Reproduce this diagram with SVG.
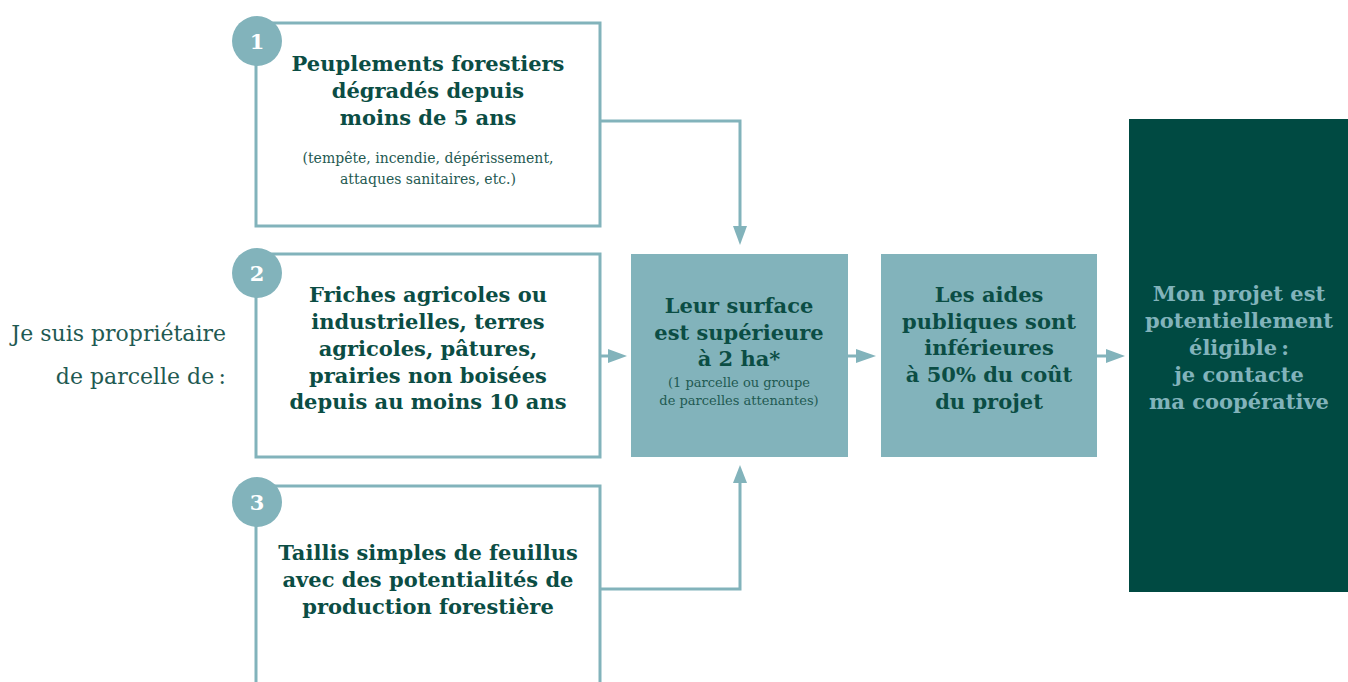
<svg xmlns="http://www.w3.org/2000/svg" width="1348" height="682" viewBox="0 0 1348 682">
<style>
.box{fill:#fff;stroke:#82b3bb;stroke-width:3}
.circ{fill:#82b3bb}
.num{font-family:"DejaVu Serif",serif;font-weight:bold;font-size:21px;fill:#fff;text-anchor:middle}
.t{font-family:"DejaVu Serif",serif;font-weight:bold;font-size:21px;fill:#0b4d44;text-anchor:middle}
.s{font-family:"DejaVu Serif",serif;font-size:14px;fill:#1f5a52;text-anchor:middle}
.s2{font-family:"DejaVu Serif",serif;font-size:13px;fill:#1f5a52;text-anchor:middle}
.lt{font-family:"DejaVu Serif",serif;font-size:22px;fill:#1f5a52;text-anchor:end}
.mid{fill:#82b3bb}
.dark{fill:#004a42}
.td{font-family:"DejaVu Serif",serif;font-weight:bold;font-size:21px;fill:#82b3bb;text-anchor:middle}
.ln{fill:none;stroke:#82b3bb;stroke-width:3}
.ah{fill:#82b3bb}
</style>
<rect width="1348" height="682" fill="#fff"/>
<g id="intro">
<text class="lt" x="226" y="341">Je suis propriétaire</text>
<text class="lt" x="226" y="384">de parcelle de&#8239;:</text>
</g>
<g id="connectors">
<polyline class="ln" points="600,121 740,121 740,228"/>
<polygon class="ah" points="733,226 747,226 740,245"/>
<polyline class="ln" points="600,589 740,589 740,482"/>
<polygon class="ah" points="733,483 747,483 740,465"/>
<line class="ln" x1="600" y1="356" x2="610" y2="356"/>
<polygon class="ah" points="608,349 608,363 627,356"/>
<line class="ln" x1="848" y1="356" x2="858" y2="356"/>
<polygon class="ah" points="856,349 856,363 876,356"/>
<line class="ln" x1="1097" y1="356" x2="1108" y2="356"/>
<polygon class="ah" points="1106,349 1106,363 1125,356"/>
</g>
<g id="node1">
<rect class="box" x="256" y="23" width="344" height="203"/>
<circle class="circ" cx="257" cy="41" r="25"/>
<text class="num" x="257" y="49">1</text>
<text class="t" x="428" y="71">Peuplements forestiers</text>
<text class="t" x="428" y="98">dégradés depuis</text>
<text class="t" x="428" y="125">moins de 5 ans</text>
<text class="s" x="428" y="163">(tempête, incendie, dépérissement,</text>
<text class="s" x="428" y="184">attaques sanitaires, etc.)</text>
</g>
<g id="node2">
<rect class="box" x="256" y="254" width="344" height="203"/>
<circle class="circ" cx="257" cy="273" r="25"/>
<text class="num" x="257" y="281">2</text>
<text class="t" x="428" y="302">Friches agricoles ou</text>
<text class="t" x="428" y="329">industrielles, terres</text>
<text class="t" x="428" y="356">agricoles, pâtures,</text>
<text class="t" x="428" y="383">prairies non boisées</text>
<text class="t" x="428" y="409">depuis au moins 10 ans</text>
</g>
<g id="node3">
<rect class="box" x="256" y="486" width="344" height="210"/>
<circle class="circ" cx="257" cy="502" r="25"/>
<text class="num" x="257" y="510">3</text>
<text class="t" x="428" y="560">Taillis simples de feuillus</text>
<text class="t" x="428" y="587">avec des potentialités de</text>
<text class="t" x="428" y="614">production forestière</text>
</g>
<g id="node4">
<rect class="mid" x="631" y="254" width="217" height="203"/>
<text class="t" x="739" y="313">Leur surface</text>
<text class="t" x="739" y="340">est supérieure</text>
<text class="t" x="739" y="366">à 2 ha*</text>
<text class="s2" x="739" y="387">(1 parcelle ou groupe</text>
<text class="s2" x="739" y="405">de parcelles attenantes)</text>
</g>
<g id="node5">
<rect class="mid" x="881" y="254" width="216" height="203"/>
<text class="t" x="989" y="302">Les aides</text>
<text class="t" x="989" y="329">publiques sont</text>
<text class="t" x="989" y="355">inférieures</text>
<text class="t" x="989" y="382">à 50% du coût</text>
<text class="t" x="989" y="409">du projet</text>
</g>
<g id="node6">
<rect class="dark" x="1129" y="119" width="219" height="473"/>
<text class="td" x="1239" y="301">Mon projet est</text>
<text class="td" x="1239" y="328">potentiellement</text>
<text class="td" x="1239" y="355">éligible&#8239;:</text>
<text class="td" x="1239" y="382">je contacte</text>
<text class="td" x="1239" y="409">ma coopérative</text>
</g>
</svg>
